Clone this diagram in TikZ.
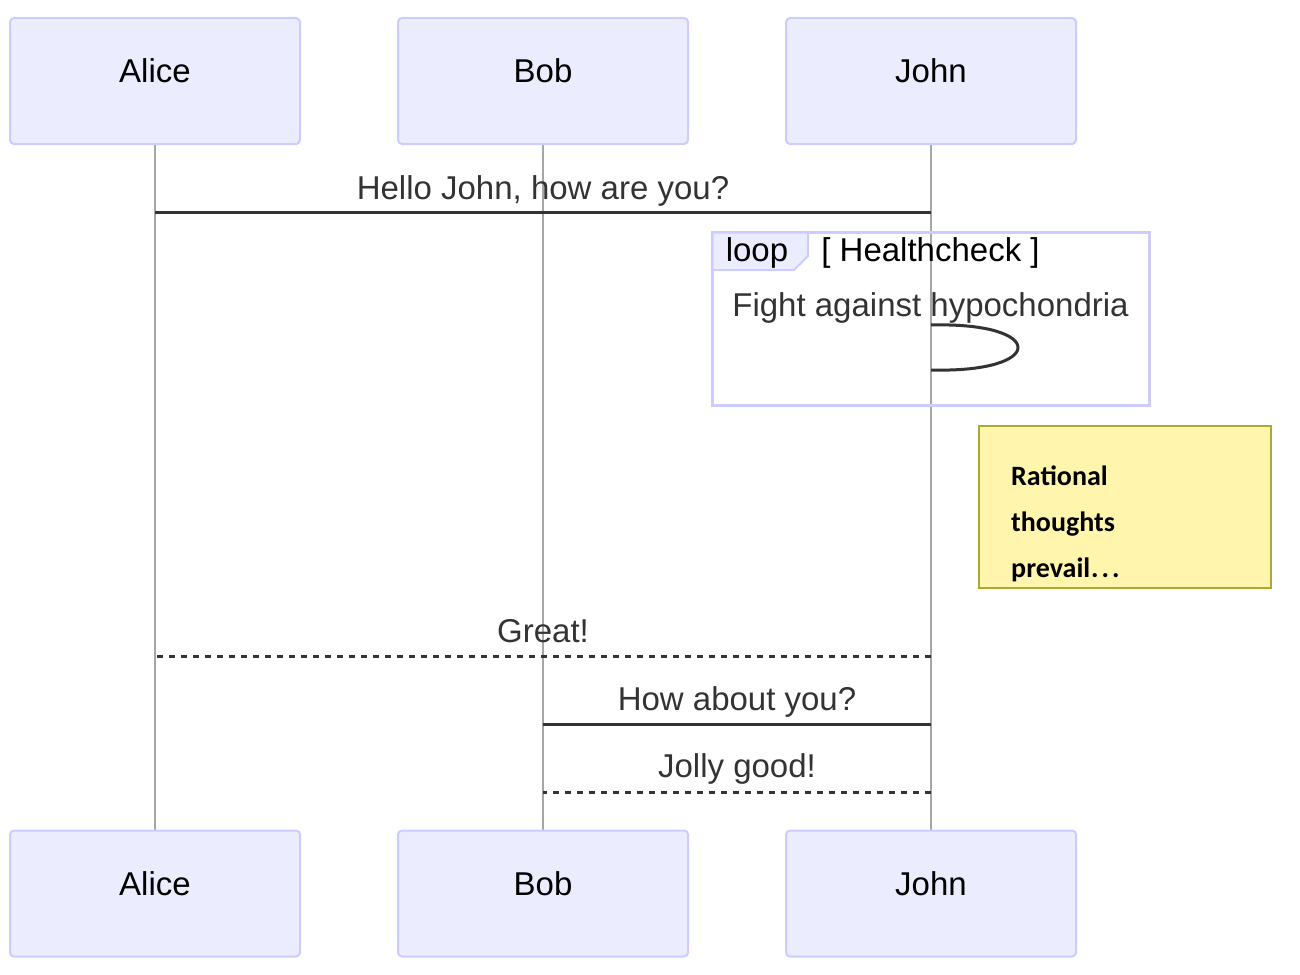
\documentclass[tikz,border=0pt]{standalone}
\usepackage{fontspec}
\setmainfont{Liberation Sans}
\newfontfamily\notefont{Carlito}
\definecolor{actfill}{HTML}{ECECFF}
\definecolor{actdraw}{HTML}{CCCCFF}
\definecolor{lifecol}{HTML}{A6A6A6}
\definecolor{msgcol}{HTML}{333333}
\definecolor{notefill}{HTML}{FFF5AD}
\definecolor{notedraw}{HTML}{AAAA33}
\begin{document}
\begin{tikzpicture}[x=1pt,y=-1pt,
  actor/.style={draw=actdraw,fill=actfill,line width=2pt,rounded corners=4pt,minimum width=290pt,minimum height=126pt,inner sep=0pt},
  actlabel/.style={anchor=base,inner sep=0pt,font=\fontsize{33}{39}\selectfont,text=black},
  msglabel/.style={anchor=base,inner sep=0pt,font=\fontsize{33}{39}\selectfont,text=msgcol},
  lifeline/.style={draw=lifecol,line width=1.2pt},
  msg/.style={draw=msgcol,line width=3pt},
  reply/.style={draw=msgcol,line width=3pt,dash pattern=on 6pt off 6pt},
  notetext/.style={anchor=base west,inner sep=0pt,font=\notefont\bfseries\fontsize{28}{34}\selectfont,text=black}
]
\useasboundingbox (0,0) rectangle (1300,974);
% lifelines
\coordinate (aT) at (155,144); \coordinate (aB) at (155,831);
\coordinate (bT) at (543,144); \coordinate (bB) at (543,831);
\coordinate (jT) at (931,144); \coordinate (jB) at (931,831);
\draw[lifeline] (aT) -- (aB);
\draw[lifeline] (bT) -- (bB);
\draw[lifeline] (jT) -- (jB);
% actors top
\node[actor] (alice) at (155,81) {};
\node[actor] (bob) at (543,81) {};
\node[actor] (john) at (931,81) {};
\node[actlabel] (aliceL) at (155,82) {Alice};
\node[actlabel] (bobL) at (543,82) {Bob};
\node[actlabel] (johnL) at (931,82) {John};
% actors bottom
\node[actor] (alice2) at (155,893.5) {};
\node[actor] (bob2) at (543,893.5) {};
\node[actor] (john2) at (931,893.5) {};
\node[actlabel] (alice2L) at (155,895) {Alice};
\node[actlabel] (bob2L) at (543,895) {Bob};
\node[actlabel] (john2L) at (931,895) {John};
% message 1
\coordinate (m1a) at (155,212); \coordinate (m1j) at (931,212);
\draw[msg] (m1a) -- (m1j);
\node[msglabel] (m1L) at (543,199) {Hello John, how are you?};
% loop box
\draw[draw=actdraw,line width=3pt] (712.5,232.5) rectangle (1149,405);
\path[fill=actfill,draw=actdraw,line width=2pt] (712.5,232.5) -- (808,232.5) -- (808,256) -- (794,270) -- (712.5,270) -- cycle;
\node[msglabel,text=black] (loopL) at (757,261) {loop};
\node[msglabel,text=black] (loopT) at (930.5,261) {[ Healthcheck ]};
\node[msglabel] (selfL) at (930.5,316) {Fight against hypochondria};
\coordinate (s1) at (931,325); \coordinate (s2) at (931,370);
\draw[msgcol,line width=3pt] (s1) .. controls (1047,322) and (1047,373) .. (s2);
% note
\node[draw=notedraw,fill=notefill,line width=2pt,minimum width=292pt,minimum height=162pt,inner sep=0pt] (note) at (1124.5,507) {};
\node[notetext] (n1) at (1011,485) {Rational};
\node[notetext] (n2) at (1011,531) {thoughts};
\node[notetext] (n3) at (1011,577) {prevail\kern1pt.\kern3pt.\kern3pt.};
% Great
\coordinate (g1) at (155,656); \coordinate (g2) at (931,656);
\draw[reply] (g2) -- (g1);
\node[msglabel] (gL) at (543,642) {Great!};
% How about you
\coordinate (h1) at (543,724); \coordinate (h2) at (931,724);
\draw[msg] (h1) -- (h2);
\node[msglabel] (hL) at (737,710) {How about you?};
% Jolly good
\coordinate (j1) at (543,792); \coordinate (j2) at (931,792);
\draw[reply] (j2) -- (j1);
\node[msglabel] (jL) at (737,777) {Jolly good!};
\end{tikzpicture}
\end{document}
